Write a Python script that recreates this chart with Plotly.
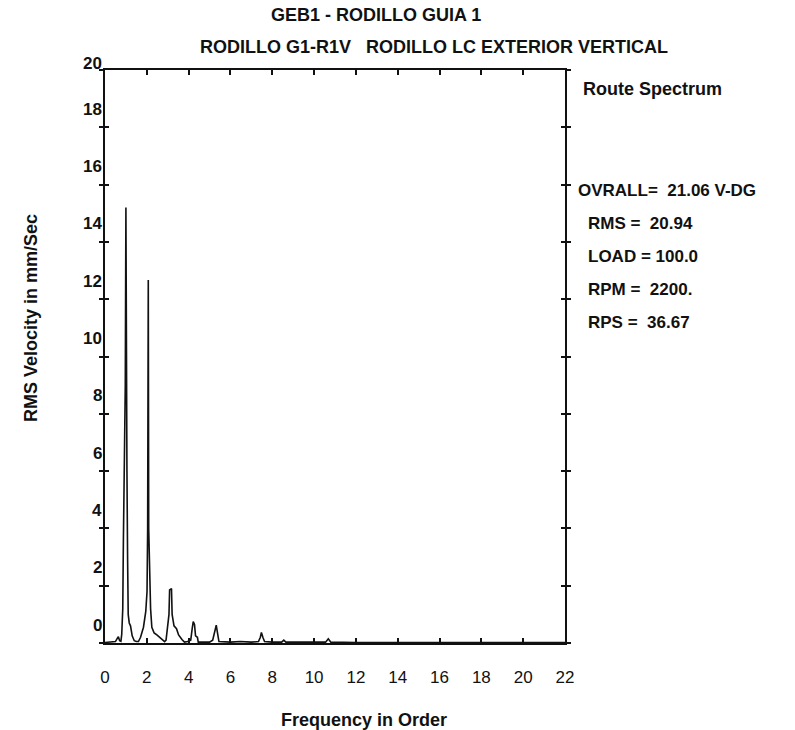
import plotly.graph_objects as go

# ---- data ----
freq_order = [0.0, 0.3, 0.5, 0.6, 0.64, 0.7, 0.76, 0.80, 0.85, 0.88, 0.93, 0.97, 1.00, 1.02, 1.05, 1.08, 1.11,
              1.16, 1.22, 1.30, 1.40, 1.50, 1.60, 1.70, 1.84, 1.95, 2.01, 2.04, 2.07, 2.09, 2.13, 2.18,
              2.24, 2.35, 2.48, 2.60, 2.72, 2.85, 2.92, 2.98, 3.06, 3.09, 3.18, 3.21, 3.30, 3.42, 3.52,
              3.68, 3.80, 3.95, 4.10, 4.17, 4.22, 4.28, 4.33, 4.42, 4.46, 4.70, 5.00, 5.15, 5.25, 5.32,
              5.38, 5.45, 6.00, 6.47, 7.00, 7.34, 7.43, 7.48, 7.55, 7.63, 8.00, 8.45, 8.55, 8.65, 9.50,
              10.00, 10.55, 10.68, 10.80, 12.00, 14.00, 16.00, 18.00, 20.00, 22.00]
rms_velocity = [0.02, 0.03, 0.05, 0.18, 0.22, 0.08, 0.06, 0.30, 1.20, 3.60, 6.50, 9.00, 15.20, 9.00, 6.00,
                3.00, 1.00, 0.70, 0.60, 0.25, 0.08, 0.05, 0.05, 0.20, 0.55, 1.10, 1.80, 4.00, 12.67,
                4.00, 2.00, 1.20, 0.55, 0.35, 0.28, 0.20, 0.15, 0.05, 0.10, 0.50, 1.00, 1.85, 1.90,
                1.00, 0.60, 0.50, 0.28, 0.12, 0.03, 0.05, 0.10, 0.50, 0.75, 0.65, 0.25, 0.20, 0.03,
                0.03, 0.03, 0.10, 0.40, 0.62, 0.35, 0.05, 0.03, 0.05, 0.03, 0.05, 0.20, 0.37, 0.20,
                0.05, 0.03, 0.03, 0.10, 0.03, 0.03, 0.02, 0.03, 0.15, 0.03, 0.02, 0.02, 0.02, 0.02,
                0.02, 0.02]

x_ticks = [0, 2, 4, 6, 8, 10, 12, 14, 16, 18, 20, 22]
y_ticks = [0, 2, 4, 6, 8, 10, 12, 14, 16, 18, 20]

title_1 = "GEB1 - RODILLO GUIA 1"
title_2 = "RODILLO G1-R1V &nbsp; RODILLO LC EXTERIOR VERTICAL"
x_title = "Frequency in Order"
y_title = "RMS Velocity in mm/Sec"
side_title = "Route Spectrum"
side_lines = ["OVRALL= &nbsp;21.06 V-DG", "RMS = &nbsp;20.94", "LOAD = 100.0", "RPM = &nbsp;2200.", "RPS = &nbsp;36.67"]

FONT = "Liberation Sans, Arial, sans-serif"
W, H = 795, 730
L, R, T, B = 105, 230, 70, 87

fig = go.Figure()
fig.add_trace(go.Scatter(x=freq_order, y=rms_velocity, mode="lines",
                         line=dict(color="#111111", width=1.6), hoverinfo="skip", showlegend=False))
# dummy trace for the overlay axis (inner ticks)
fig.add_trace(go.Scatter(x=[None], y=[None], yaxis="y2", showlegend=False, hoverinfo="skip"))

fig.update_layout(
    width=W, height=H, margin=dict(l=L, r=R, t=T, b=B),
    paper_bgcolor="white", plot_bgcolor="white",
    font=dict(family=FONT, size=18, color="#111111"),
    xaxis=dict(range=[0, 22], tickvals=x_ticks, ticktext=[str(v) for v in x_ticks],
               showgrid=False, zeroline=False, showline=True, linecolor="#111111", linewidth=2,
               mirror="ticks", ticks="inside", ticklen=5, tickwidth=1.5, tickcolor="#111111",
               tickfont=dict(family=FONT, size=17, color="#111111"), ticklabelstandoff=18),
    yaxis=dict(range=[0, 20], tickvals=y_ticks, showticklabels=False,
               showgrid=False, zeroline=False, showline=True, linecolor="#111111", linewidth=2,
               mirror="ticks", ticks="outside", ticklen=4, tickwidth=1.5, tickcolor="#111111"),
    yaxis2=dict(range=[0, 20], overlaying="y", tickvals=y_ticks, showticklabels=False,
                showgrid=False, zeroline=False, showline=False,
                mirror="ticks", ticks="inside", ticklen=4, tickwidth=1.5, tickcolor="#111111"),
)

ann = []
for v in y_ticks:
    ann.append(dict(x=0, xref="paper", xanchor="right", xshift=-1, y=v, yref="y", yanchor="middle",
                    yshift=(7 if v == 20 else 18), text=f"<b>{v}</b>", showarrow=False,
                    font=dict(family=FONT, size=17)))
ann += [
    dict(x=376, y=H - 15, xref="paper", yref="paper", text=f"<b>{title_1}</b>"),
    dict(x=434, y=H - 47, xref="paper", yref="paper", text=f"<b>{title_2}</b>"),
    dict(x=364, y=H - 720, xref="paper", yref="paper", text=f"<b>{x_title}</b>"),
    dict(x=31, y=H - 318, xref="paper", yref="paper", text=f"<b>{y_title}</b>", textangle=-90),
]
# convert pixel positions to paper coords for the title-type annotations
pw, ph = W - L - R, H - T - B
for a in ann[len(y_ticks):]:
    a["x"] = (a["x"] - L) / pw
    a["y"] = (a["y"] - B) / ph
    a.update(showarrow=False, xanchor="center", yanchor="middle", font=dict(family=FONT, size=18))

side = [(side_title, 581, 89)] + [(t, 576 if i == 0 else 586, 190 + 33 * i) for i, t in enumerate(side_lines)]
for t, px, py in side:
    ann.append(dict(x=(px - L) / pw, y=(H - py - B) / ph, xref="paper", yref="paper",
                    xanchor="left", yanchor="middle", text=f"<b>{t}</b>", showarrow=False,
                    font=dict(family=FONT, size=(18 if t == side_title else 17))))
fig.update_layout(annotations=ann)

fig.write_html("out.html")
